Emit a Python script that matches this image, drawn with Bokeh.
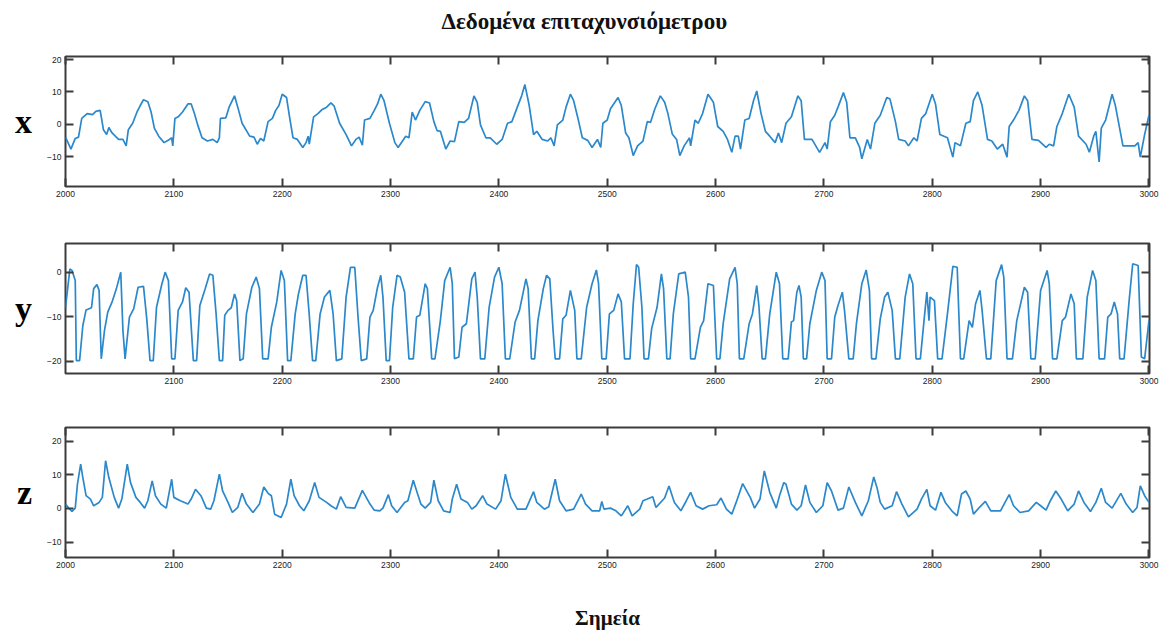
from bokeh.plotting import figure
from bokeh.models import LinearAxis, FixedTicker, Range1d, Title
from bokeh.layouts import column
from bokeh.embed import file_html
from bokeh.resources import INLINE

TITLE = "Δεδομένα επιταχυνσιόμετρου"
XLABEL = "Σημεία"
AXIS_NAMES = ["x", "y", "z"]
X_TICKS_FULL = [2000, 2100, 2200, 2300, 2400, 2500, 2600, 2700, 2800, 2900, 3000]
X_TICKS_MID = [2100, 2200, 2300, 2400, 2500, 2600, 2700, 2800, 2900, 3000]

# ---- accelerometer x ----
acc_x_idx = [
    2000, 2005, 2009, 2012, 2015, 2020, 2025, 2028, 2032, 2035,
    2038, 2040, 2043, 2049, 2053, 2056, 2058, 2062, 2066, 2069,
    2072, 2076, 2079, 2082, 2086, 2091, 2096, 2098, 2099, 2101,
    2104, 2108, 2113, 2116, 2119, 2122, 2126, 2131, 2136, 2140,
    2142, 2143, 2148, 2151, 2156, 2159, 2163, 2170, 2174, 2177,
    2180, 2183, 2187, 2191, 2194, 2197, 2200, 2204, 2207, 2210,
    2214, 2219, 2222, 2224, 2225, 2229, 2233, 2237, 2241, 2245,
    2248, 2253, 2259, 2264, 2268, 2271, 2274, 2276, 2281, 2285,
    2288, 2291, 2294, 2299, 2304, 2307,
    2314, 2317, 2320, 2323, 2327, 2332, 2336, 2340, 2343, 2346,
    2351, 2355, 2359, 2363, 2368, 2372, 2377, 2380, 2383, 2388,
    2392, 2398, 2403, 2408, 2412, 2417, 2421, 2424, 2428, 2432,
    2435, 2440, 2445, 2448, 2451, 2454, 2459, 2462, 2466, 2469,
    2473, 2477, 2482, 2486, 2491, 2494, 2496, 2500, 2503, 2510,
    2513, 2517, 2520, 2524, 2528, 2533, 2537, 2540, 2544, 2549,
    2553, 2556, 2560, 2564, 2567, 2571, 2576, 2577, 2581, 2584,
    2588, 2593, 2598, 2602, 2607, 2611, 2615, 2618, 2621, 2623,
    2627, 2631, 2635, 2638, 2642, 2646,
    2650, 2655, 2658, 2661, 2665, 2670, 2676, 2679, 2682, 2689,
    2696, 2701, 2703, 2706, 2710, 2713, 2718, 2721, 2724, 2729,
    2733, 2735, 2740, 2743, 2747, 2752, 2758, 2761, 2766, 2769,
    2775, 2778, 2783, 2786, 2790, 2794, 2800, 2803, 2807, 2814,
    2819, 2821, 2826, 2831, 2835, 2838, 2842, 2846, 2851, 2855,
    2860, 2865, 2869, 2871, 2875, 2880, 2885, 2888, 2892, 2898,
    2905, 2908, 2912, 2915, 2920, 2926, 2931, 2935, 2942, 2945,
    2949, 2951, 2954, 2956, 2960, 2966, 2969, 2976, 2980, 2987,
    2990, 2992, 2996, 3000,
]
acc_x_val = [
    -4, -7.7, -4.4, -4, 1.8, 3.3, 3, 4, 4.3, -1.7,
    -3.2, -1, -2.7, -4.7, -4.7, -6.7, -1.7, 0.3, 3.8, 5.8,
    7.6, 7, 3.8, -1.2, -3.7, -5.7, -4.7, -4.2, -6.7, 1.8,
    2.3, 3.8, 6.3, 6.3, 3.3, -0.2, -4.2, -5.2, -4.7, -5.7,
    -4.2, 1.8, 2, 5.3, 8.8, 5.3, 0.3, -3.7, -4, -6.2,
    -4.4, -5.2, 0.8, 1.8, 4.3, 5.8, 9.3, 8.3, 1.8, -4.2,
    -4.7, -7.2, -5.7, -3.7, -6.2, 2.3, 3.3, 4.6, 5.3, 6.6,
    5.6, 0.3, -3.2, -6.7, -4.7, -4, -6.5, 1.3, 1.8, 4.3,
    6.3, 9.3, 7.3, 0.3, -5.7, -7.2,
    -3.7, -4.2, 3.8, 1.3, 4.3, 7, 6.6, 0.8, -2, -2.2,
    -7.7, -5.2, -5.4, 0.8, 0.6, 1.8, 8.8, 6.8, -0.2, -4.2,
    -4.2, -6.2, -4.7, 0.3, 0.8, 5.3, 8.8, 12.3, 5.8, -3.2,
    -2.2, -4.7, -5.2, -4.2, -6.7, -0.2, 1.3, 5.3, 9.3, 7.3,
    1.8, -4.2, -5, -7.2, -4.7, -7.2, 0.3, 1.3, 4.8, 8.3,
    5.8, -2.7, -4.2, -9.7, -6.7, -5.2, 0.8, 0.6, 4.8, 8.8,
    6.8, 3.3, -3, -4.7, -9.7, -6.7, -4.2, -6.7, 1.3, 0.3,
    3.3, 9.3, 6.8, -0.7, -2.2, -4.7, -8.7, -3.7, -3.7, -7.7,
    1.3, 1.8, 7.3, 10.3, 3.3, -2.2,
    -3.7, -5.7, -2.7, -5.7, 0.3, 2.3, 8.8, 7.3, -4.7, -4.7,
    -8.7, -5.7, -7.7, 0.8, 2.8, 5.3, 9.8, 6.8, -4.2, -4.2,
    -7.2, -10.7, -4.7, -7.7, 0.3, 2.8, 8.3, 7.8, 0.8, -4.7,
    -5.2, -6.7, -4.2, -5.2, 1.8, 3.3, 9.3, 6.3, -3.2, -4.2,
    -10.2, -5.7, -6.7, 0.3, 0.8, 7.3, 10, 5.8, -4.7, -5.2,
    -7.7, -6.2, -10.2, -0.7, 1.3, 4.3, 8.8, 7.3, -4.7, -5,
    -7.2, -6.2, -6.7, -0.7, 3.3, 9.3, 5.3, -3.7, -6.2, -8.7,
    -3.7, -2.2, -11.7, -1.2, 1.3, 9.3, 5.8, -6.7, -6.7, -6.7,
    -5.7, -10.2, -3.2, 2.8,
]

# ---- accelerometer y ----
acc_y_idx = [
    2000, 2002, 2004, 2006, 2009, 2010, 2013, 2016, 2019, 2024,
    2026, 2029, 2031, 2033, 2036, 2039, 2043, 2047, 2051, 2053,
    2055, 2059, 2063, 2067, 2072, 2075, 2078, 2081, 2084, 2089,
    2092, 2095, 2098, 2101, 2104, 2108, 2111, 2114, 2118, 2121,
    2124, 2129, 2133, 2136, 2139, 2142, 2145, 2147, 2150, 2153,
    2156, 2158, 2161, 2164, 2167, 2172, 2176, 2179, 2182, 2187,
    2190, 2195, 2199, 2202, 2205, 2208, 2212, 2215, 2219, 2222,
    2225, 2228, 2231, 2235, 2239, 2244, 2247, 2250, 2255, 2259,
    2263, 2267, 2270, 2273, 2278, 2281, 2284, 2288, 2291, 2293,
    2296, 2299, 2302, 2306, 2309, 2313,
    2317, 2321, 2324, 2327, 2332, 2334, 2338, 2341, 2346, 2350,
    2355, 2357, 2359, 2363, 2366, 2370, 2375, 2378, 2380, 2383,
    2387, 2391, 2396, 2400, 2403, 2406, 2410, 2415, 2419, 2425,
    2427, 2430, 2433, 2436, 2441, 2444, 2447, 2450, 2452, 2456,
    2459, 2462, 2466, 2470, 2472, 2476, 2481, 2486, 2490, 2492,
    2495, 2499, 2502, 2506, 2510, 2513, 2516, 2521, 2524, 2527,
    2529, 2532, 2534, 2538, 2541, 2546, 2550, 2552, 2555, 2558,
    2561, 2566, 2572, 2575, 2577, 2581, 2586, 2589, 2593, 2598,
    2601, 2604, 2607, 2613, 2618, 2620, 2622, 2626, 2631, 2634,
    2638, 2640, 2643, 2646, 2650,
    2656, 2659, 2662, 2667, 2670, 2672, 2675, 2677, 2679, 2681,
    2684, 2687, 2693, 2698, 2701, 2703, 2707, 2710, 2713, 2717,
    2719, 2723, 2727, 2730, 2735, 2739, 2742, 2744, 2748, 2752,
    2756, 2759, 2763, 2766, 2770, 2775, 2779, 2782, 2785, 2789,
    2793, 2795, 2797, 2798, 2802, 2805, 2809, 2814, 2819, 2823,
    2826, 2829, 2834, 2837, 2840, 2844, 2846, 2850, 2854, 2859,
    2864, 2866, 2869, 2874, 2878, 2885, 2888, 2891, 2895, 2900,
    2906, 2908, 2911, 2915, 2920, 2923, 2928, 2931, 2933, 2939,
    2943, 2948, 2951, 2954, 2959, 2962, 2965, 2968, 2971, 2973,
    2977, 2982, 2985, 2990, 2993, 2996, 3000,
]
acc_y_val = [
    -7.9, -3.7, 0.7, 0.4, -1.9, -19.9, -19.9, -12, -8.5, -8,
    -3.7, -2.8, -4.1, -19.5, -13.1, -9, -6.7, -3.7, 0, -13.1,
    -19.5, -10.1, -8.2, -3.4, -3.2, -10.5, -19.9, -19.9, -7.9, -2.6,
    0, -1.9, -19.5, -19.5, -8.6, -6.7, -3.5, -4.5, -19.9, -19.9,
    -7.5, -3.7, -0.4, -0.7, -9.4, -19.9, -19.9, -9.7, -8.6, -8,
    -4.9, -6.4, -19.9, -19.5, -9.4, -3.4, -1.1, -3.7, -19.5, -19.5,
    -12.4, -6.7, 0.4, -1.9, -19.9, -19.9, -9.4, -4.9, -0.7, -0.7,
    -9.7, -19.9, -19.9, -9.4, -5.6, -4.1, -9.4, -19.9, -19.5, -5.6,
    1.1, 1.1, -10.1, -19.9, -19.5, -10.1, -8.6, -3.4, -0.7, -5.6,
    -19.9, -19.9, -7.9, -0.7, -1.1, -4.5,
    -19.5, -19.5, -10.1, -9.7, -2.6, -3.7, -19.5, -19.5, -10.9, -1.9,
    1.1, -2.6, -19.5, -19.1, -12.4, -11.6, -1.5, 0, -5.6, -19.5,
    -19.5, -7.9, -1.1, 1.1, -2.6, -19.5, -19.5, -11.2, -8.6, -1.5,
    -3.7, -19.5, -19.5, -10.9, -3.7, -0.7, -1.5, -13.1, -19.5, -19.5,
    -10.5, -9.7, -4.1, -8.6, -19.5, -19.5, -7.9, -2.6, 0.5, -2.6,
    -19.5, -19.5, -9.4, -8.6, -4.9, -6.7, -19.5, -19.5, -7.1, 1.7,
    1.1, -7.9, -19.5, -19.5, -12.7, -7.9, -0.4, -3.7, -19.5, -19.5,
    -9.4, -0.4, 0, -5.6, -19.5, -19.5, -12.4, -10.9, -2.6, -3,
    -19.5, -19.5, -11.6, -1.5, 1.1, -2.6, -19.5, -19.5, -11.6, -9.4,
    -3, -7.5, -19.5, -19.5, -9.4,
    0, -2.6, -19.5, -19.5, -11.2, -10.9, -4.5, -3, -5.6, -19.5,
    -19.5, -11.6, -4.1, 0, -1.9, -19.5, -19.5, -10.1, -7.5, -4.5,
    -8.6, -19.5, -19.5, -11.6, -2.6, 0.5, -4.1, -19.5, -19.5, -10.5,
    -5.6, -4.5, -8.6, -19.5, -19.5, -5.6, -0.4, -2.6, -19.5, -19.5,
    -9.4, -4.5, -10.9, -5.6, -6.4, -19.5, -19.5, -9.4, 1.3, 1.1,
    -19.5, -19.5, -10.9, -12.4, -7.1, -4.1, -8.6, -19.5, -19.5, -1.9,
    1.7, -1.1, -19.5, -19.5, -10.9, -3.4, -4.5, -19.5, -19.5, -4.1,
    0.4, -2.6, -19.5, -19.5, -10.9, -10.1, -4.9, -7.1, -19.5, -19.5,
    -5.6, 0.4, -1.9, -19.5, -19.5, -10.1, -9.4, -6.7, -9.4, -19.5,
    -19.5, -5.6, 1.9, 1.5, -19.1, -19.5, -10.9,
]

# ---- accelerometer z ----
acc_z_idx = [
    2000, 2003, 2006, 2009, 2011, 2014, 2016, 2019, 2023, 2026,
    2031, 2034, 2037, 2040, 2045, 2049, 2052, 2057, 2060, 2065,
    2069, 2073, 2076, 2080, 2083, 2088, 2093, 2098, 2100, 2106,
    2113, 2116, 2120, 2125, 2130, 2134, 2137, 2142, 2145, 2150,
    2154, 2159, 2163, 2167, 2173, 2179, 2183, 2187, 2190, 2193,
    2199, 2204, 2208, 2211, 2216, 2220, 2225, 2230, 2234, 2241,
    2245, 2250, 2254, 2259, 2267, 2274, 2281, 2285, 2290, 2293,
    2298, 2301, 2306, 2313, 2316, 2321, 2325, 2328,
    2332, 2337, 2340, 2344, 2349, 2355, 2357, 2361, 2365, 2371,
    2375, 2379, 2385, 2389, 2397, 2402, 2406, 2411, 2417, 2425,
    2432, 2435, 2442, 2446, 2452, 2456, 2462, 2469, 2476, 2480,
    2486, 2493, 2495, 2497, 2503, 2508, 2513, 2519, 2523, 2530,
    2533, 2537, 2542, 2545, 2553, 2557, 2562, 2568, 2573, 2577,
    2582, 2588, 2594, 2601, 2605, 2610, 2615, 2619, 2625, 2632,
    2636, 2641, 2645, 2650, 2656,
    2659, 2663, 2665, 2670, 2675, 2679, 2683, 2687, 2693, 2699,
    2703, 2707, 2713, 2718, 2723, 2729, 2735, 2741, 2746, 2749,
    2752, 2756, 2763, 2767, 2772, 2778, 2786, 2790, 2795, 2798,
    2803, 2808, 2812, 2818, 2823, 2827, 2831, 2835, 2838, 2844,
    2849, 2854, 2863, 2871, 2875, 2881, 2889, 2896, 2900, 2905,
    2909, 2914, 2919, 2925, 2931, 2935, 2940, 2946, 2951, 2956,
    2960, 2966, 2974, 2979, 2985, 2989, 2992, 2996, 3000,
]
acc_z_val = [
    1.3, 0.1, -0.9, 0.1, 7.2, 13.2, 9.2, 3.8, 2.8, 0.8,
    1.8, 3.3, 14.2, 9.2, 3.3, 0.1, 2.8, 13.2, 7.7, 3.3,
    1.8, 0.1, 2.3, 8.2, 3.8, 1.3, 0.1, 8.7, 3.3, 2.3,
    1.3, 2.8, 5.7, 3.8, 0.1, -0.2, 2.3, 10.2, 5.2, 1.8,
    -1.2, 0.3, 4.5, 1.3, -1.2, 1.3, 6.4, 4.5, 3.8, -1.7,
    -2.7, 1.3, 8.7, 3.8, 0.8, -0.7, 2.3, 7.7, 3.3, 1.8,
    0.8, -0.2, 3.5, 0.3, 0.1, 5.4, 1.3, -0.5, -0.7, 0.1,
    4.1, 0.8, -1.2, 1.8, 2.3, 8.4, 4.3, 1.3,
    0.1, 1.8, 8.4, 2.3, -0.7, -1.2, 2.8, 7.2, 2.8, 1.8,
    -0.2, 0.8, 3.8, 1.3, -0.2, 2.3, 10.2, 3.3, -0.2, -0.2,
    5, 1.8, -0.2, 0.5, 8.7, 2.3, -0.7, -0.2, 4.3, 1.3,
    -0.7, -0.7, 2.1, -0.2, 0.1, -0.7, -2.2, 0.8, -2.2, -0.2,
    2.3, 2.8, 3.5, 0.3, 3.1, 6.7, 1.8, -0.7, 2.3, 4.8,
    0.8, -0.2, 0.8, 1.1, 3.1, -0.2, -1.7, 1.8, 7.4, 3.3,
    0.1, 2.8, 11.2, 4.8, 0.1,
    3.8, 7.7, 7.2, 1.3, -0.5, 0.8, 7, 1.8, -1.2, 0.8,
    7.7, 5.2, -0.5, 0.1, 6.4, 1.8, -2.2, 2.3, 9.4, 6.2,
    1.8, -0.2, 0.8, 5, 1.3, -2.5, -0.2, 2.8, 5.7, 0.8,
    -0.5, 4.8, 1.8, -0.7, -2.2, 4.3, 5.2, 2.8, -1.7, 0.5,
    2.1, -0.7, -0.7, 4.1, 0.8, -1.2, -0.7, 1.8, 0.8, -0.5,
    2.3, 5.2, 2.8, -0.7, 1.3, 5.2, 1.8, -0.9, 1.8, 6,
    1.8, 0.1, 4.5, 1.3, -1.2, 0.3, 6.7, 3.8, 1.8,
]

Y_RANGES = [(-19.3, 21.0), (-22.8, 6.45), (-14.6, 24.1)]
Y_TICKS = [[-10, 0, 10, 20], [-20, -10, 0], [-10, 0, 10, 20]]

LINE_COLOR = "#2b88cb"
AX_COLOR = "#3c3c3c"
W = 1162
FRAME_W = 1084
FRAME_H = 130
LEFT = 65
RIGHT = W - LEFT - FRAME_W
TOPS = [56, 20, 20]
BOTTOMS = [37, 34, 80]

series = [(acc_x_idx, acc_x_val), (acc_y_idx, acc_y_val), (acc_z_idx, acc_z_val)]
x_ticks_list = [X_TICKS_FULL, X_TICKS_MID, X_TICKS_FULL]


def style_axis(ax, show_labels):
    ax.axis_line_color = None
    ax.major_tick_in = 8
    ax.major_tick_out = 0
    ax.major_tick_line_color = AX_COLOR
    ax.major_tick_line_width = 2
    ax.minor_tick_line_color = None
    ax.major_label_standoff = 4
    ax.major_label_text_font = "Liberation Sans"
    ax.major_label_text_font_size = "8.5px"
    if show_labels:
        ax.major_label_text_color = "#222222"
    else:
        ax.major_label_text_color = None
        ax.major_label_standoff = 0


figs = []
bottom_axes = []
for i in range(3):
    idx, val = series[i]
    h = TOPS[i] + FRAME_H + BOTTOMS[i]
    p = figure(width=W, height=h, output_backend="svg", toolbar_location=None,
               x_range=Range1d(2000, 3000.5), y_range=Range1d(*Y_RANGES[i]),
               min_border_left=LEFT, min_border_right=RIGHT,
               min_border_top=TOPS[i], min_border_bottom=BOTTOMS[i])
    p.xgrid.visible = False
    p.ygrid.visible = False
    p.outline_line_color = AX_COLOR
    p.outline_line_width = 2
    p.background_fill_color = "white"
    p.border_fill_color = "white"
    xax = p.xaxis[0]
    yax = p.yaxis[0]
    xax.ticker = FixedTicker(ticks=x_ticks_list[i])
    yax.ticker = FixedTicker(ticks=Y_TICKS[i])
    style_axis(xax, True)
    style_axis(yax, True)
    bottom_axes.append(xax)
    # big axis name, drawn as the y-axis label
    yax.axis_label = AXIS_NAMES[i]
    yax.axis_label_text_font = "Liberation Serif"
    yax.axis_label_text_font_style = "bold"
    yax.axis_label_text_font_size = "34px"
    yax.axis_label_text_color = "black"
    yax.axis_label_standoff = 12
    if "axis_label_orientation" in yax.properties():
        yax.axis_label_orientation = "horizontal"

    top_ax = LinearAxis(ticker=FixedTicker(ticks=x_ticks_list[i]))
    style_axis(top_ax, False)
    p.add_layout(top_ax, "above")
    right_ax = LinearAxis(ticker=FixedTicker(ticks=Y_TICKS[i]))
    style_axis(right_ax, False)
    p.add_layout(right_ax, "right")

    p.line(idx, val, line_color=LINE_COLOR, line_width=1.7)
    figs.append(p)

# invisible spacer between the top box edge and the title
spacer = LinearAxis(ticker=FixedTicker(ticks=[2500]), major_tick_in=0, major_tick_out=20,
                    major_tick_line_color=None, axis_line_color=None,
                    major_label_text_color=None, major_label_standoff=0,
                    minor_tick_line_color=None)
figs[0].add_layout(spacer, "above")

# title (centred on the page, slightly left of the frame centre)
t = Title(text=TITLE, align="left", text_font="Liberation Serif",
          text_font_style="bold", text_font_size="23px", text_color="#111111",
          standoff=6, offset=376)
figs[0].add_layout(t, "above")

# x label on bottom plot
xl = bottom_axes[2]
xl.axis_label = XLABEL
xl.axis_label_text_font = "Liberation Serif"
xl.axis_label_text_font_style = "bold"
xl.axis_label_text_font_size = "21px"
xl.axis_label_text_color = "#111111"
xl.axis_label_standoff = 35

layout = column(*figs, spacing=0)
open("out.html", "w").write(file_html(layout, INLINE))
